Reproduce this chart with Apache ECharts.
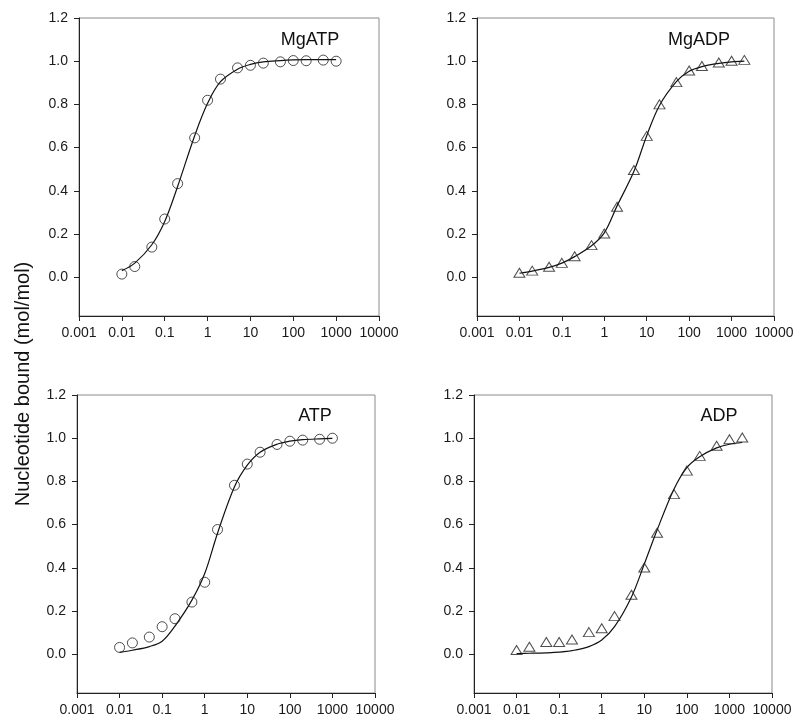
<!DOCTYPE html>
<html>
<head>
<meta charset="utf-8">
<script src="https://cdn.jsdelivr.net/npm/echarts@6/dist/echarts.min.js"></script>
<style>html,body{margin:0;padding:0;background:#fff}#c{width:800px;height:728px}</style>
</head>
<body>
<div id="c"></div>
<script>
// ---- data ----
const panelNames = ['MgATP', 'MgADP', 'ATP', 'ADP'];
const xTickLabels = ['0.001', '0.01', '0.1', '1', '10', '100', '1000', '10000'];
const yTickValues = [0, 0.2, 0.4, 0.6, 0.8, 1.0, 1.2];

const xATP = [0.01, 0.02, 0.05, 0.1, 0.2, 0.5, 1, 2, 5, 10, 20, 50, 100, 200, 500, 1000];
const xADP = [0.01, 0.02, 0.05, 0.1, 0.2, 0.5, 1, 2, 5, 10, 20, 50, 100, 200, 500, 1000, 2000];

const mgATPPoints = [0.014, 0.049, 0.139, 0.269, 0.433, 0.645, 0.819, 0.917, 0.969, 0.981, 0.991, 0.997, 1.003, 1.002, 1.005, 1.0];
const mgATPFit    = [0.030, 0.065, 0.150, 0.258, 0.420, 0.655, 0.805, 0.905, 0.963, 0.985, 0.997, 1.003, 1.006, 1.007, 1.007, 1.007];

const mgADPPoints = [0.020, 0.030, 0.048, 0.066, 0.097, 0.148, 0.202, 0.326, 0.496, 0.654, 0.800, 0.903, 0.957, 0.978, 0.994, 1.002, 1.006];
const mgADPFit    = [0.018, 0.028, 0.045, 0.065, 0.095, 0.145, 0.205, 0.330, 0.490, 0.655, 0.795, 0.905, 0.953, 0.975, 0.990, 0.997, 1.000];

const atpPoints = [0.031, 0.052, 0.079, 0.127, 0.164, 0.241, 0.333, 0.577, 0.782, 0.880, 0.935, 0.971, 0.986, 0.991, 0.995, 1.0];
const atpFit    = [0.008, 0.018, 0.035, 0.060, 0.130, 0.250, 0.373, 0.560, 0.775, 0.875, 0.935, 0.972, 0.986, 0.993, 0.997, 0.999];

const adpPoints = [0.019, 0.034, 0.056, 0.056, 0.068, 0.102, 0.120, 0.176, 0.275, 0.401, 0.562, 0.741, 0.850, 0.918, 0.965, 0.995, 1.003];
const adpFit    = [0.003, 0.004, 0.006, 0.009, 0.016, 0.035, 0.065, 0.127, 0.265, 0.417, 0.575, 0.765, 0.864, 0.914, 0.955, 0.972, 0.980];

const yTitle = 'Nucleotide bound (mol/mol)';

// ---- chart ----
const FONT = '"Liberation Sans", Arial, sans-serif';
const grids = [
  {left: 79, top: 18, width: 300, height: 298},
  {left: 477, top: 18, width: 297, height: 298},
  {left: 77, top: 395, width: 298, height: 298},
  {left: 474, top: 395, width: 298, height: 298}
];
const labelPos = [[310, 40], [699, 40], [315, 416], [719, 416]];
const panels = [
  {x: xATP, pts: mgATPPoints, fit: mgATPFit, sym: 'circle'},
  {x: xADP, pts: mgADPPoints, fit: mgADPFit, sym: 'triangle'},
  {x: xATP, pts: atpPoints, fit: atpFit, sym: 'circle'},
  {x: xADP, pts: adpPoints, fit: adpFit, sym: 'triangle'}
];

const zip = (a, b) => a.map((v, i) => [v, b[i]]);

const option = {
  backgroundColor: '#fff',
  animation: false,
  textStyle: {fontFamily: FONT},
  grid: grids.map(g => Object.assign({show: true, borderColor: '#8a8a8a', borderWidth: 1, backgroundColor: 'transparent', containLabel: false}, g)),
  xAxis: grids.map((g, i) => ({
    type: 'log', logBase: 10, gridIndex: i, min: 0.001, max: 10000,
    axisLine: {show: true, onZero: false, lineStyle: {color: '#222', width: 1}},
    axisTick: {show: true, inside: false, length: 5, lineStyle: {color: '#222'}},
    minorTick: {show: false},
    splitLine: {show: false},
    axisLabel: {
      color: '#1a1a1a', fontSize: 14, fontFamily: FONT, margin: 10,
      formatter: v => xTickLabels[Math.round(Math.log10(v)) + 3]
    }
  })),
  yAxis: grids.map((g, i) => ({
    type: 'value', gridIndex: i, min: -0.18, max: 1.2,
    axisLine: {show: true, onZero: false, lineStyle: {color: '#222', width: 1}},
    axisTick: {show: true, length: 5, lineStyle: {color: '#222'}, customValues: yTickValues},
    splitLine: {show: false},
    axisLabel: {
      color: '#1a1a1a', fontSize: 14, fontFamily: FONT, margin: 11,
      customValues: yTickValues,
      formatter: v => Number(v).toFixed(1)
    }
  })),
  series: [],
  graphic: []
};

panels.forEach((p, i) => {
  option.series.push({
    type: 'line', xAxisIndex: i, yAxisIndex: i,
    data: zip(p.x, p.fit), smooth: 0.35, showSymbol: false, symbol: 'none',
    lineStyle: {color: '#111', width: 1.2}, z: 2
  });
  option.series.push({
    type: 'scatter', xAxisIndex: i, yAxisIndex: i,
    data: zip(p.x, p.pts), symbol: p.sym,
    symbolSize: p.sym === 'circle' ? 10 : [11, 9],
    itemStyle: {color: 'rgba(0,0,0,0)', borderColor: '#222', borderWidth: 1}, z: 3
  });
  option.graphic.push({
    type: 'text', x: labelPos[i][0], y: labelPos[i][1],
    style: {text: panelNames[i], fill: '#111', font: '18px ' + FONT, textAlign: 'center', textVerticalAlign: 'middle'}
  });
});

option.graphic.push({
  type: 'text', x: 23, y: 384, rotation: Math.PI / 2,
  style: {text: yTitle, fill: '#111', font: '20px ' + FONT, textAlign: 'center', textVerticalAlign: 'middle'}
});

const chart = echarts.init(document.getElementById('c'), null, {renderer: 'canvas'});
chart.setOption(option);
</script>
</body>
</html>
